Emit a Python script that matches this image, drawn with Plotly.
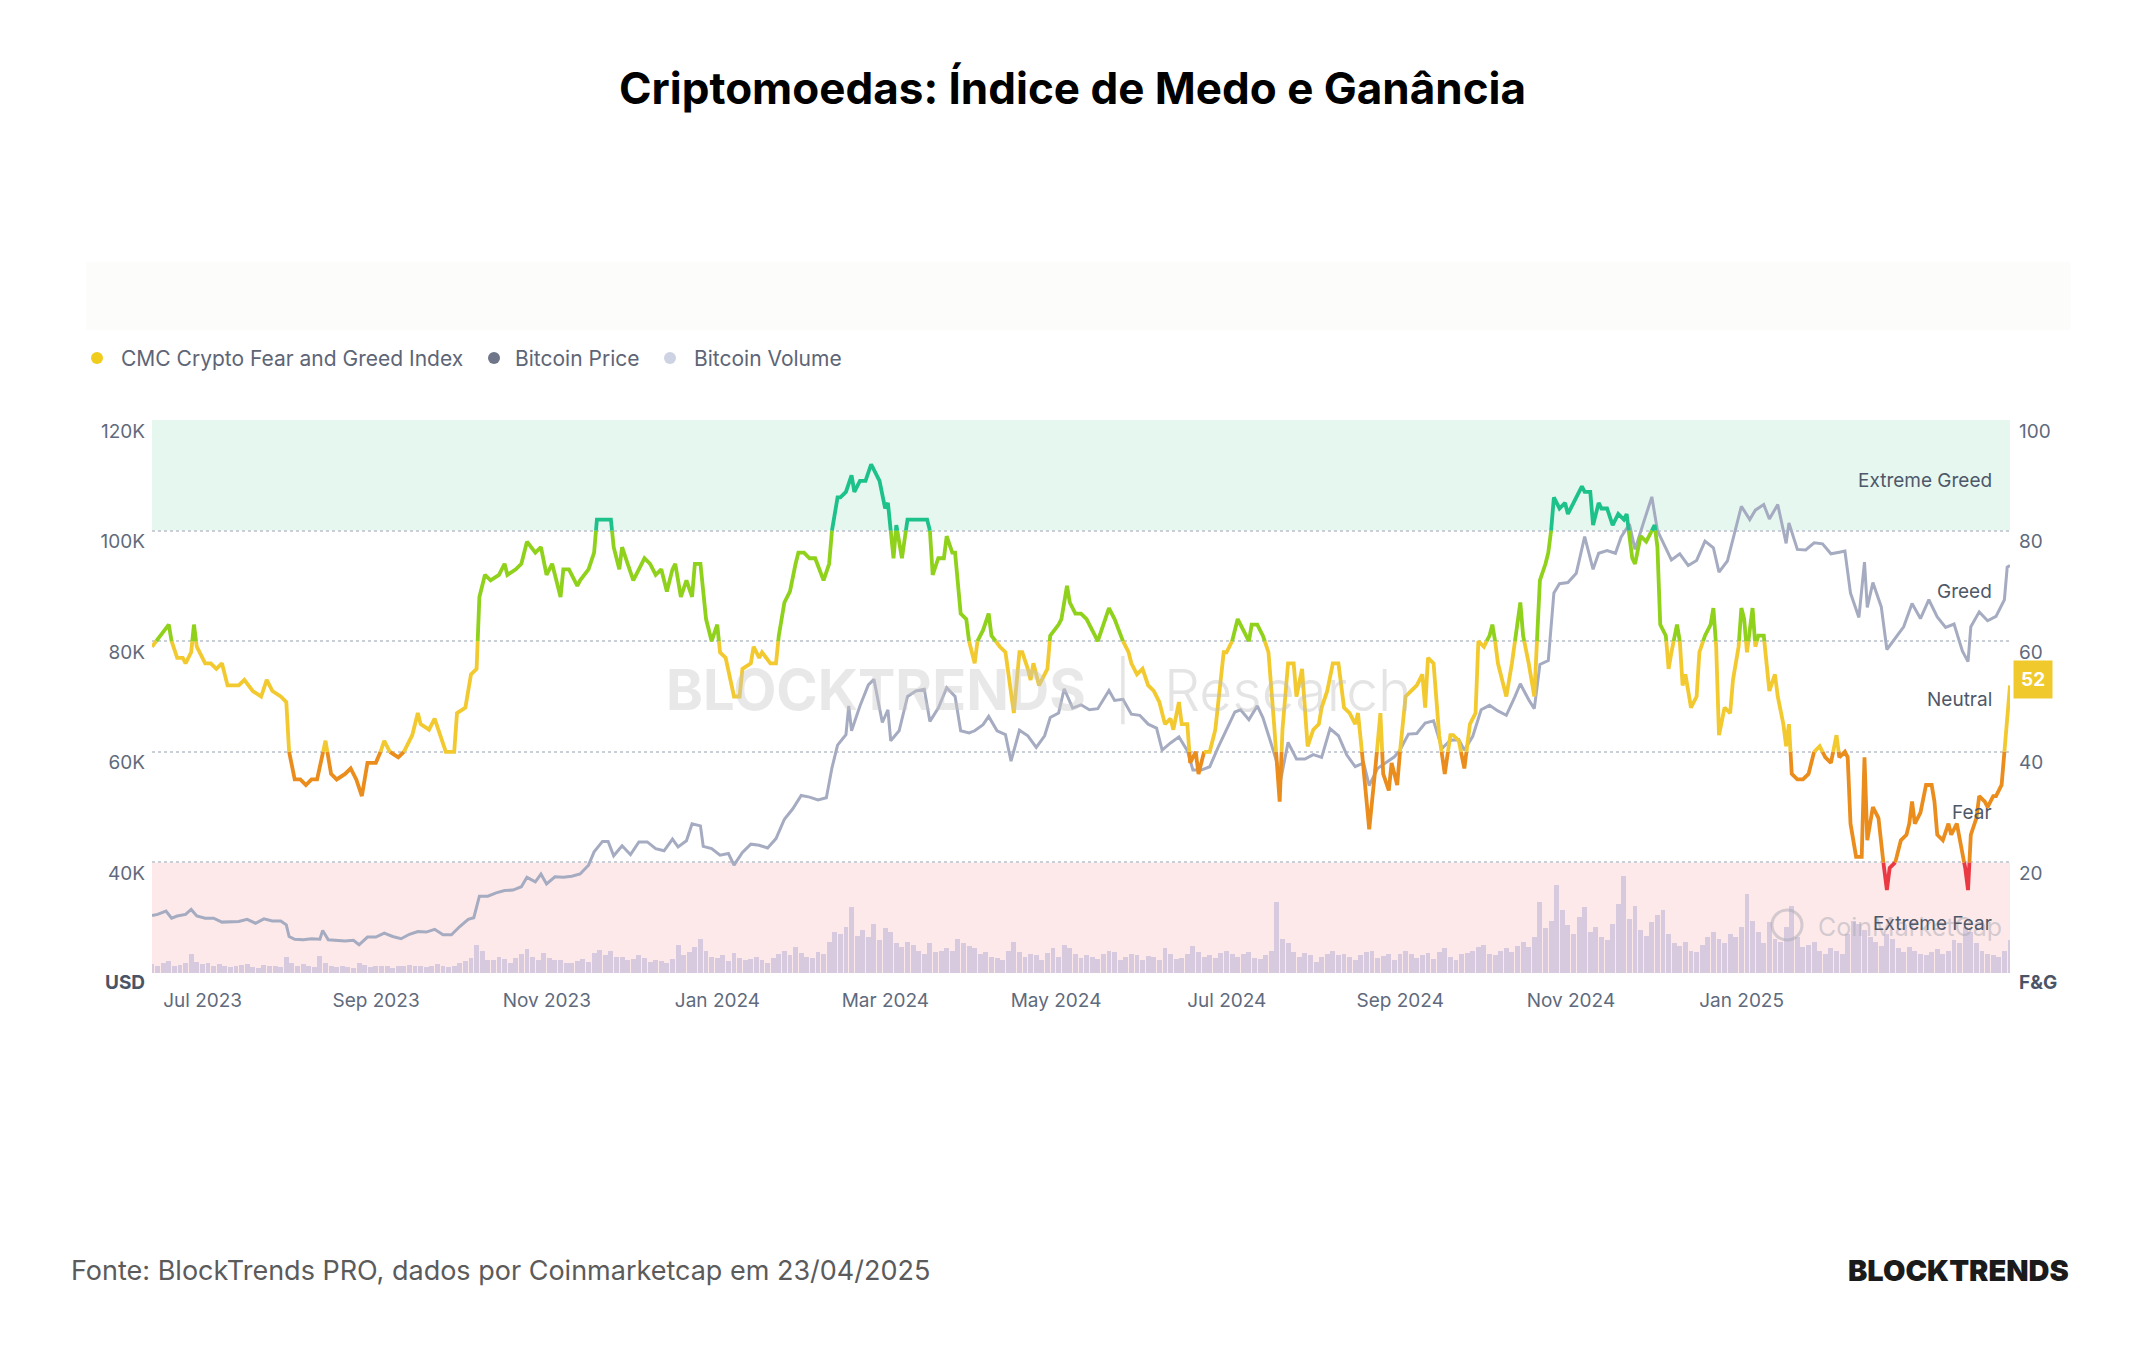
import pandas as pd
import plotly.graph_objects as go

# ---------------- DATA ----------------
START = pd.Timestamp("2023-06-29")   # day 0 of the series
END_DAY = 664                        # 2025-04-23

# CMC Crypto Fear & Greed Index (day offset from START, value)
fng_days = [0, 3, 6, 7, 9, 11, 12, 14, 15, 16, 19, 21, 23, 25, 27, 29, 31, 33, 36, 39, 41, 43, 46, 48, 49, 51, 53, 55, 57, 59,
            62, 64, 66, 69, 71, 73, 75, 77, 80, 81, 83, 85, 88, 90, 92, 93, 95, 96, 99, 101, 103, 105, 108, 109, 112, 114, 116, 117, 119, 121,
            124, 126, 127, 130, 132, 134, 137, 139, 141, 143, 146, 147, 149, 152, 153, 156, 158, 159, 162, 164, 165, 167, 168, 170, 172, 174, 176, 178, 180, 182,
            184, 186, 187, 189, 191, 193, 194, 196, 198, 200, 202, 203, 205, 208, 210, 211, 214, 215, 217, 218, 221, 223, 224, 226, 228, 230, 231, 233, 235, 237,
            239, 240, 242, 243, 245, 246, 248, 250, 251, 253, 255, 257, 258, 260, 262, 263, 265, 266, 268, 270, 272, 274, 277, 278, 279, 281, 283, 284, 286, 287,
            289, 291, 292, 294, 295, 297, 299, 300, 303, 305, 307, 308, 310, 311, 313, 314, 315, 317, 319, 320, 321, 324, 325, 327, 328, 330, 332, 334, 336, 338,
            340, 342, 344, 346, 347, 349, 350, 352, 354, 356, 358, 360, 362, 364, 365, 367, 368, 370, 371, 373, 374, 376, 378, 380, 381, 383, 384, 386, 388, 390,
            392, 393, 395, 397, 399, 401, 403, 404, 406, 408, 409, 411, 413, 415, 417, 418, 420, 422, 424, 426, 428, 430, 431, 433, 434, 435, 437, 439, 440, 442,
            443, 445, 446, 448, 450, 452, 454, 455, 456, 458, 460, 462, 464, 465, 467, 469, 471, 473, 474, 476, 478, 479, 480, 481, 483, 484, 486, 489, 490, 492,
            494, 496, 498, 499, 500, 501, 503, 505, 506, 508, 511, 512, 514, 515, 517, 518, 520, 522, 524, 526, 527, 529, 530, 532, 534, 536, 537, 538, 539, 541,
            542, 543, 545, 546, 547, 548, 550, 552, 553, 555, 557, 558, 559, 560, 562, 564, 565, 567, 568, 569, 570, 572, 573, 574, 576, 577, 578, 580, 581, 583,
            584, 585, 586, 588, 590, 592, 594, 596, 598, 600, 602, 603, 605, 606, 607, 609, 611, 612, 613, 615, 617, 618, 620, 621, 623, 625, 627, 628, 629, 630,
            632, 634, 636, 637, 638, 640, 642, 643, 645, 646, 648, 649, 650, 652, 653, 655, 656, 658, 659, 661, 662, 664]
fng_values = [59, 61, 63, 60, 57, 57, 56, 58, 63, 59, 56, 56, 55, 56, 52, 52, 52, 53, 51, 50, 53, 51, 50, 49, 40, 35, 35, 34, 35, 35,
              42, 36, 35, 36, 37, 35, 32, 38, 38, 39, 42, 40, 39, 40, 42, 43, 47, 45, 44, 46, 43, 40, 40, 47, 48, 54, 55, 68, 72, 71,
              72, 74, 72, 73, 74, 78, 76, 77, 72, 74, 68, 73, 73, 70, 71, 73, 76, 82, 82, 82, 77, 73, 77, 74, 71, 73, 75, 74, 72, 73,
              69, 73, 74, 68, 71, 68, 74, 74, 64, 60, 63, 58, 57, 50, 50, 55, 56, 59, 57, 58, 56, 56, 61, 67, 69, 74, 76, 76, 75, 75,
              72, 71, 74, 80, 86, 86, 87, 90, 87, 89, 89, 92, 91, 89, 84, 85, 75, 81, 75, 82, 82, 82, 82, 80, 72, 75, 75, 79, 76, 76,
              65, 64, 60, 56, 60, 62, 65, 61, 59, 58, 50, 47, 58, 58, 55, 53, 56, 52, 54, 55, 61, 63, 64, 70, 67, 65, 65, 64, 62, 60,
              63, 66, 64, 61, 60, 58, 56, 54, 55, 52, 51, 49, 45, 46, 44, 49, 45, 45, 38, 40, 36, 40, 40, 44, 49, 58, 58, 60, 64, 62,
              60, 63, 63, 61, 58, 45, 31, 44, 56, 56, 50, 55, 41, 44, 45, 48, 51, 56, 56, 48, 47, 45, 47, 37, 32, 26, 36, 47, 36, 33,
              38, 34, 40, 50, 51, 52, 54, 48, 57, 56, 43, 36, 43, 43, 42, 37, 45, 47, 60, 59, 61, 63, 60, 56, 52, 50, 56, 67, 61, 56,
              50, 71, 74, 76, 80, 86, 84, 85, 83, 85, 88, 87, 87, 81, 85, 84, 84, 81, 83, 82, 83, 75, 74, 79, 78, 80, 81, 77, 63, 61,
              55, 58, 63, 60, 52, 54, 48, 50, 58, 61, 63, 66, 59, 43, 48, 47, 53, 59, 66, 64, 58, 66, 59, 61, 61, 56, 51, 54, 50, 45,
              41, 45, 36, 35, 35, 36, 40, 41, 39, 38, 43, 39, 40, 39, 27, 21, 21, 39, 24, 30, 28, 23, 15, 19, 20, 24, 25, 27, 31, 27,
              29, 34, 34, 31, 25, 24, 27, 25, 27, 24, 19, 15, 25, 28, 32, 31, 30, 32, 32, 34, 40, 52]

# Bitcoin price, thousands of USD (day offset from START)
btc_days = [0, 2, 5, 7, 9, 12, 14, 16, 19, 22, 25, 28, 31, 34, 37, 40, 43, 46, 48, 49, 51, 54, 57, 60, 61, 63, 66, 69, 72, 74,
            77, 80, 83, 86, 89, 92, 95, 98, 101, 104, 107, 110, 113, 115, 117, 120, 123, 126, 129, 132, 134, 137, 139, 141, 144, 147, 150, 153, 156, 158,
            161, 163, 165, 168, 171, 174, 177, 180, 183, 186, 188, 191, 193, 196, 197, 200, 203, 206, 208, 211, 214, 217, 220, 223, 226, 229, 232, 235, 238, 241,
            243, 245, 248, 249, 250, 253, 256, 258, 261, 263, 264, 267, 270, 273, 276, 278, 281, 284, 287, 289, 292, 294, 297, 299, 302, 305, 307, 310, 313, 316,
            319, 321, 324, 326, 329, 332, 335, 338, 342, 344, 347, 350, 353, 356, 359, 361, 364, 367, 370, 372, 375, 378, 381, 384, 387, 389, 392, 395, 397, 400,
            402, 403, 406, 409, 412, 415, 418, 421, 424, 427, 430, 433, 435, 438, 441, 444, 446, 449, 452, 455, 458, 461, 464, 467, 469, 472, 475, 478, 481, 484,
            487, 489, 492, 494, 496, 499, 501, 503, 506, 509, 512, 515, 517, 520, 523, 525, 528, 530, 533, 536, 538, 540, 543, 546, 549, 552, 555, 558, 560, 563,
            566, 568, 571, 573, 576, 578, 581, 584, 585, 588, 591, 594, 597, 600, 603, 605, 607, 610, 612, 613, 615, 618, 620, 623, 626, 629, 632, 635, 638, 641,
            644, 647, 649, 650, 653, 656, 659, 662, 663, 664]
btc_price_k = [30.4, 30.6, 31.2, 29.9, 30.3, 30.6, 31.5, 30.3, 29.9, 29.9, 29.2, 29.3, 29.3, 29.7, 29.0, 29.8, 29.4, 29.4, 28.7, 26.6, 26.1, 26.0, 26.2, 26.1, 27.7, 26.0, 25.9, 25.8, 25.9, 25.1,
               26.5, 26.5, 27.2, 26.6, 26.2, 27.0, 27.5, 27.4, 27.9, 26.9, 26.9, 28.4, 29.7, 30.0, 33.9, 33.9, 34.5, 34.9, 35.0, 35.6, 37.3, 36.5, 37.9, 36.1, 37.4, 37.3, 37.5, 37.9, 39.5, 41.9,
               43.8, 43.8, 41.2, 43.0, 41.4, 43.7, 43.7, 42.5, 42.1, 44.2, 42.8, 43.9, 47.0, 46.6, 42.9, 42.5, 41.3, 41.6, 39.5, 41.8, 43.3, 43.1, 42.6, 44.3, 47.8, 49.7, 52.1, 51.8, 51.3, 51.7,
               57.1, 61.2, 63.1, 68.3, 63.8, 68.3, 72.1, 73.1, 65.3, 67.6, 62.0, 63.8, 70.0, 71.0, 71.3, 65.5, 67.9, 71.6, 70.0, 63.8, 63.4, 63.8, 64.9, 66.4, 63.8, 63.1, 58.3, 63.9, 62.9, 60.8,
               62.9, 66.2, 67.0, 71.4, 67.9, 68.5, 67.6, 67.8, 71.1, 69.3, 69.5, 66.8, 66.6, 65.0, 64.3, 60.3, 61.6, 62.7, 60.2, 56.7, 56.7, 57.3, 60.8, 64.1, 67.2, 67.6, 65.8, 68.3, 66.2, 61.4,
               58.1, 54.0, 61.7, 58.7, 58.7, 59.5, 59.0, 64.2, 62.9, 59.4, 57.3, 58.0, 53.9, 57.0, 58.1, 59.1, 60.3, 63.2, 63.3, 65.2, 65.6, 60.6, 62.1, 62.2, 60.3, 62.8, 67.6, 68.4, 67.4, 66.6,
               69.9, 72.3, 69.4, 67.8, 75.8, 76.5, 88.7, 90.4, 90.6, 92.3, 98.9, 93.0, 95.9, 96.4, 95.9, 98.8, 101.2, 96.6, 101.4, 106.1, 100.0, 97.8, 94.7, 95.8, 93.7, 94.6, 98.1, 96.9, 92.5, 94.5,
               100.5, 104.4, 102.0, 103.7, 104.7, 102.1, 104.7, 97.7, 101.4, 96.6, 96.5, 97.8, 97.6, 95.8, 96.1, 96.3, 88.7, 84.3, 94.3, 86.1, 90.6, 86.2, 78.5, 80.5, 82.6, 86.8, 84.1, 87.5, 84.4, 82.5,
               83.1, 78.2, 76.3, 82.6, 85.3, 83.7, 84.5, 87.5, 93.4, 93.7]

# Bitcoin volume, billions of USD, one value every 2 days starting at START
vol_step_days = 2
vol_billions = [12, 9, 14, 16, 10, 11, 13, 26, 15, 12, 13, 9, 12, 10, 8, 9, 11, 12, 8, 7, 11, 10, 9, 8, 22, 14, 9, 12, 10, 8,
                23, 14, 10, 8, 9, 8, 7, 13, 11, 8, 9, 10, 9, 7, 10, 9, 11, 10, 9, 8, 10, 12, 9, 8, 10, 13,
                16, 20, 38, 30, 18, 17, 21, 19, 14, 20, 25, 32, 22, 18, 27, 20, 17, 18, 14, 13, 16, 19, 15, 27, 31, 24, 29, 22, 21, 17,
                19, 24, 20, 15, 18, 16, 14, 19,
                38, 24, 28, 35, 46, 30, 22, 20, 24, 16, 27, 20, 18, 19, 22, 17, 14, 20, 26, 30, 24, 35, 27, 22, 20, 28, 25, 42, 55,
                52, 62, 88, 50, 58, 48, 66, 44, 60, 55, 40, 35, 42, 38, 30, 26, 40, 28, 30, 34, 29, 45, 40, 36, 33, 25, 28, 22,
                20, 18, 30, 42, 28, 22, 26, 24, 18, 27, 34, 22, 38, 33, 26, 20, 24, 22, 19, 25, 30, 28, 18, 22, 26, 24, 17, 23, 21, 18,
                33, 25, 19, 20, 26, 36, 28, 22, 24, 20, 27, 30, 25, 22, 26, 28, 20, 19, 24, 30,
                95, 45, 40, 28, 22, 27, 24, 15, 22, 25, 30, 24, 26, 22, 18, 24, 28, 30, 20, 23, 26, 18, 25, 30, 26, 20, 24, 27, 19, 28,
                33, 22, 18, 25, 27, 30, 35, 38, 26, 24, 30, 33, 28, 36, 42,
                35, 48, 95, 60, 70, 118, 85, 64, 52, 75, 88, 55, 62, 48, 44, 66, 92, 130, 72, 90, 58, 50, 68, 78, 84, 52, 40, 36, 42, 30, 28,
                38, 48, 55, 45, 40, 52, 48, 62, 106, 70, 55, 40, 68, 45, 42, 62, 90, 48, 35, 38, 42, 30, 26, 34, 30, 25, 52, 70, 65, 58,
                48, 42, 36, 52, 45, 33, 28, 35, 30, 26, 24, 28, 32, 26, 30, 44, 40, 62, 55, 40, 30, 26, 24, 22, 30, 44]

month_ticks = ["2023-07-01", "2023-09-01", "2023-11-01", "2024-01-01", "2024-03-01",
               "2024-05-01", "2024-07-01", "2024-09-01", "2024-11-01", "2025-01-01"]
month_labels = ["Jul 2023", "Sep 2023", "Nov 2023", "Jan 2024", "Mar 2024",
                "May 2024", "Jul 2024", "Sep 2024", "Nov 2024", "Jan 2025"]
usd_ticks = [40000, 60000, 80000, 100000, 120000]
usd_labels = ["40K", "60K", "80K", "100K", "120K"]
fg_ticks = [0, 20, 40, 60, 80, 100]
fg_labels = ["", "20", "40", "60", "80", "100"]
zone_names = ["Extreme Greed", "Greed", "Neutral", "Fear", "Extreme Fear"]
zone_label_levels = [89, 69, 49.5, 29, 9]
band_edges = [0, 20, 40, 60, 80, 100]
band_colors = ["#ea3943", "#ea8d1c", "#f2c92f", "#8fd11b", "#1cc28a"]
latest_value = 52

# ---------------- LAYOUT GEOMETRY ----------------
W, H = 2144, 1350
PL, PR, PT, PB = 152, 2010, 420, 973
FONT = "Inter, Roboto, sans-serif"
AX_COLOR = "#5f6a7d"


def px(x):
    return (x - PL) / (PR - PL)


def py(y):
    return (PB - y) / (PB - PT)


def to_date(d):
    return START + pd.to_timedelta(d, unit="D")


fig = go.Figure()

# Volume bars (hidden base axis)
vol_dates = [to_date(i * vol_step_days) for i in range(len(vol_billions))]
fig.add_trace(go.Bar(x=vol_dates, y=vol_billions, yaxis="y",
                     marker=dict(color="rgba(200,188,218,0.72)", line=dict(width=0)),
                     width=1.75 * 86400000, hoverinfo="skip"))

# Bitcoin price line
fig.add_trace(go.Scatter(x=[to_date(d) for d in btc_days], y=[v * 1000 for v in btc_price_k],
                         yaxis="y2", mode="lines", line=dict(color="#a5abc0", width=3.0),
                         hoverinfo="skip"))


# Fear & Greed line split into colour bands at the zone thresholds
def band_of(v):
    for i in range(len(band_edges) - 1):
        if v < band_edges[i + 1]:
            return i
    return len(band_edges) - 2


runs = []  # (band, [days], [values])
cur_band, cur_d, cur_v = None, [], []
for (d0, v0), (d1, v1) in zip(zip(fng_days, fng_values), zip(fng_days[1:], fng_values[1:])):
    cuts = [0.0, 1.0]
    for t in band_edges[1:-1]:
        if (v0 - t) * (v1 - t) < 0:
            cuts.append((t - v0) / (v1 - v0))
    cuts.sort()
    for a, b in zip(cuts, cuts[1:]):
        da, va = d0 + a * (d1 - d0), v0 + a * (v1 - v0)
        db, vb = d0 + b * (d1 - d0), v0 + b * (v1 - v0)
        bi = band_of((va + vb) / 2)
        if bi != cur_band:
            if cur_band is not None:
                runs.append((cur_band, cur_d, cur_v))
            cur_band, cur_d, cur_v = bi, [da], [va]
        cur_d.append(db)
        cur_v.append(vb)
runs.append((cur_band, cur_d, cur_v))

for bi in range(len(band_colors)):
    xs, ys = [], []
    for b, ds, vs in runs:
        if b == bi:
            xs += [to_date(d) for d in ds] + [None]
            ys += vs + [None]
    if xs:
        fig.add_trace(go.Scatter(x=xs, y=ys, yaxis="y3", mode="lines",
                                 line=dict(color=band_colors[bi], width=3.8),
                                 connectgaps=False, hoverinfo="skip"))

shapes = [
    # faint header strip of the embedded screenshot
    dict(type="rect", xref="paper", yref="paper", x0=px(86), x1=px(2071), y0=py(330), y1=py(262),
         fillcolor="#fcfcfb", line=dict(width=0), layer="below"),
    # extreme greed / extreme fear background bands
    dict(type="rect", xref="paper", yref="y3", x0=0, x1=1, y0=80, y1=100,
         fillcolor="#e6f7f0", line=dict(width=0), layer="below"),
    dict(type="rect", xref="paper", yref="y3", x0=0, x1=1, y0=0, y1=20,
         fillcolor="#fde9ea", line=dict(width=0), layer="below"),
    # legend dots
    dict(type="circle", xref="paper", yref="paper", x0=px(91), x1=px(103), y0=py(364), y1=py(352),
         fillcolor="#f0cd1d", line=dict(width=0)),
    dict(type="circle", xref="paper", yref="paper", x0=px(488), x1=px(500), y0=py(364), y1=py(352),
         fillcolor="#6f7689", line=dict(width=0)),
    dict(type="circle", xref="paper", yref="paper", x0=px(664), x1=px(676), y0=py(364), y1=py(352),
         fillcolor="#cdd3e3", line=dict(width=0)),
    # CoinMarketCap watermark logo ring
    dict(type="circle", xref="paper", yref="paper", x0=px(1772), x1=px(1802), y0=py(940), y1=py(910),
         fillcolor="rgba(0,0,0,0)", line=dict(color="rgba(170,170,180,0.5)", width=3)),
]

annotations = [
    # watermarks
    dict(text="<b>BLOCKTRENDS</b>", xref="paper", yref="paper", x=px(1088), y=py(690),
         xanchor="right", yanchor="middle", showarrow=False,
         font=dict(family=FONT, size=56, color="rgba(200,200,200,0.42)")),
    dict(text="|  Research", xref="paper", yref="paper", x=px(1112), y=py(690),
         xanchor="left", yanchor="middle", showarrow=False,
         font=dict(family=FONT, size=57, color="rgba(190,190,190,0.42)", weight=300)),
    dict(text="CoinMarketCap", xref="paper", yref="paper", x=px(1816), y=py(927),
         xanchor="left", yanchor="middle", showarrow=False,
         font=dict(family=FONT, size=25, color="rgba(170,170,180,0.5)")),
    # title
    dict(text="<b>Criptomoedas: Índice de Medo e Ganância</b>", xref="paper", yref="paper",
         x=px(1072), y=py(88), xanchor="center", yanchor="middle", showarrow=False,
         font=dict(family=FONT, size=44, color="#000000")),
    # legend labels
    dict(text="CMC Crypto Fear and Greed Index", xref="paper", yref="paper", x=px(119), y=py(358),
         xanchor="left", yanchor="middle", showarrow=False, font=dict(family=FONT, size=21, color="#5d6576")),
    dict(text="Bitcoin Price", xref="paper", yref="paper", x=px(513), y=py(358),
         xanchor="left", yanchor="middle", showarrow=False, font=dict(family=FONT, size=21, color="#5d6576")),
    dict(text="Bitcoin Volume", xref="paper", yref="paper", x=px(692), y=py(358),
         xanchor="left", yanchor="middle", showarrow=False, font=dict(family=FONT, size=21, color="#5d6576")),
    # axis unit labels
    dict(text="<b>USD</b>", xref="paper", yref="paper", x=px(147), y=py(982),
         xanchor="right", yanchor="middle", showarrow=False, font=dict(family=FONT, size=19, color="#4a5466")),
    dict(text="<b>F&G</b>", xref="paper", yref="paper", x=px(2017), y=py(982),
         xanchor="left", yanchor="middle", showarrow=False, font=dict(family=FONT, size=19, color="#4a5466")),
    # latest value badge
    dict(text="<b>%d</b>" % latest_value, xref="paper", yref="y3", x=px(2013), y=53,
         xanchor="left", yanchor="middle", showarrow=False, bgcolor="#f0c92c", borderpad=7,
         font=dict(family=FONT, size=19, color="#ffffff")),
    # footer
    dict(text="Fonte: BlockTrends PRO, dados por Coinmarketcap em 23/04/2025", xref="paper", yref="paper",
         x=px(69), y=py(1270), xanchor="left", yanchor="middle", showarrow=False,
         font=dict(family=FONT, size=27, color="#5b5b5b")),
    dict(text="BLOCKTRENDS", xref="paper", yref="paper", x=px(2071), y=py(1270),
         xanchor="right", yanchor="middle", showarrow=False,
         font=dict(family=FONT, size=29, color="#1b1b1b", weight=900)),
]
for name, lvl in zip(zone_names, zone_label_levels):
    annotations.append(dict(text=name, xref="paper", yref="y3", x=px(1994), y=lvl,
                            xanchor="right", yanchor="middle", showarrow=False,
                            font=dict(family=FONT, size=19, color="#4f5869")))

fig.update_layout(
    width=W, height=H,
    margin=dict(l=PL, r=W - PR, t=PT, b=H - PB, pad=0),
    paper_bgcolor="#ffffff", plot_bgcolor="#ffffff",
    showlegend=False, bargap=0,
    xaxis=dict(type="date", range=[to_date(0), to_date(END_DAY)],
               tickmode="array", tickvals=month_ticks, ticktext=month_labels,
               ticklabelshift=45, ticklabelstandoff=14,
               showgrid=False, zeroline=False, showline=False, ticks="",
               tickfont=dict(family=FONT, size=19, color=AX_COLOR)),
    yaxis=dict(range=[0, 741], visible=False, fixedrange=True),
    yaxis2=dict(overlaying="y", side="left", range=[20000, 120000],
                tickmode="array", tickvals=usd_ticks, ticktext=usd_labels,
                showgrid=False, zeroline=False, showline=False, ticks="", ticklabelstandoff=6,
                ticklabelshift=11,
                tickfont=dict(family=FONT, size=19, color=AX_COLOR)),
    yaxis3=dict(overlaying="y", side="right", range=[0, 100],
                tickmode="array", tickvals=fg_ticks, ticktext=fg_labels,
                showgrid=True, gridcolor="#c9ced7", griddash="dot", gridwidth=1.6,
                zeroline=False, showline=False, ticks="", ticklabelstandoff=8,
                ticklabelshift=11,
                tickfont=dict(family=FONT, size=19, color=AX_COLOR)),
    shapes=shapes, annotations=annotations,
)

fig.write_html("out.html")
